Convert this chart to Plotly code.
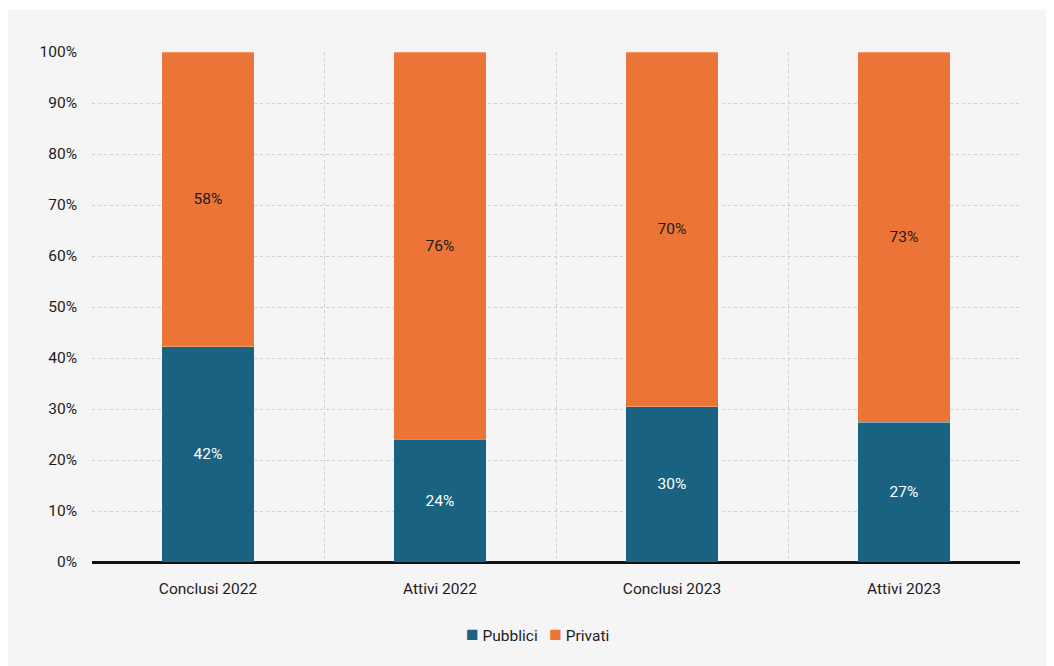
import plotly.graph_objects as go

categories = ["Conclusi 2022", "Attivi 2022", "Conclusi 2023", "Attivi 2023"]
pubblici = [42.2, 24.1, 30.4, 27.4]
privati = [57.8, 75.9, 69.6, 72.6]
series_names = ["Pubblici", "Privati"]
y_ticks = [0, 10, 20, 30, 40, 50, 60, 70, 80, 90, 100]
y_ticktext = [f"{v}%" for v in y_ticks]

BLUE = "#1a6282"
ORANGE = "#ec7436"
FONT = "Roboto"
TXT = "#1c1c1c"

fig = go.Figure()
fig.add_trace(go.Bar(
    x=categories, y=pubblici, name=series_names[0],
    marker=dict(color=BLUE, line=dict(color="rgba(255,255,255,0.5)", width=0.5)),
    texttemplate="%{y:.0f}%", textposition="inside", insidetextanchor="middle",
    textfont=dict(color="white", size=15.5, family=FONT), constraintext="none",
    hoverinfo="skip", showlegend=False,
))
fig.add_trace(go.Bar(
    x=categories, y=privati, name=series_names[1],
    marker=dict(color=ORANGE, line=dict(color="rgba(255,255,255,0.5)", width=0.5)),
    texttemplate="%{y:.0f}%", textposition="inside", insidetextanchor="middle",
    textfont=dict(color=TXT, size=15.5, family=FONT), constraintext="none",
    hoverinfo="skip", showlegend=False,
))

legend_text = (
    f"<span style='color:{BLUE};font-size:21px'>■</span> {series_names[0]}"
    "\u00a0\u00a0\u00a0"
    f"<span style='color:{ORANGE};font-size:21px'>■</span> {series_names[1]}"
)

# figure spans window pixels 8..1054 x 8..666 (page body margin of 8px)
fig.update_layout(
    width=1046, height=658,
    barmode="stack", bargap=0.6,
    paper_bgcolor="white", plot_bgcolor="rgba(0,0,0,0)",
    margin=dict(l=84, r=34, t=44, b=104),
    font=dict(family=FONT, size=15.5, color=TXT),
    showlegend=False,
    annotations=[dict(text=legend_text, xref="paper", yref="paper",
                      x=0.4806, y=-0.141, xanchor="center", yanchor="middle",
                      showarrow=False, font=dict(size=15.5, family=FONT, color=TXT))],
    shapes=[dict(type="rect", xref="paper", yref="paper",
                 x0=-0.2, x1=1.2, y0=-0.3, y1=(554 - 2) / 510,
                 fillcolor="#f5f5f5", line=dict(width=0), layer="below")],
)
fig.update_xaxes(
    type="category", tickson="boundaries", ticks="", showgrid=True,
    gridcolor="#cfcfcf", griddash="3px,3px", gridwidth=1,
    showline=False, ticklabelstandoff=15,
    tickfont=dict(size=15.5, family=FONT, color=TXT),
)
fig.update_yaxes(
    range=[0, 100], tickvals=y_ticks, ticktext=y_ticktext,
    showgrid=True, gridcolor="#cfcfcf", griddash="3px,3px", gridwidth=1,
    zeroline=True, zerolinecolor="#111111", zerolinewidth=2.5,
    ticklabelstandoff=14, tickfont=dict(size=15.5, family=FONT, color=TXT),
)

fig.write_html("out.html")
